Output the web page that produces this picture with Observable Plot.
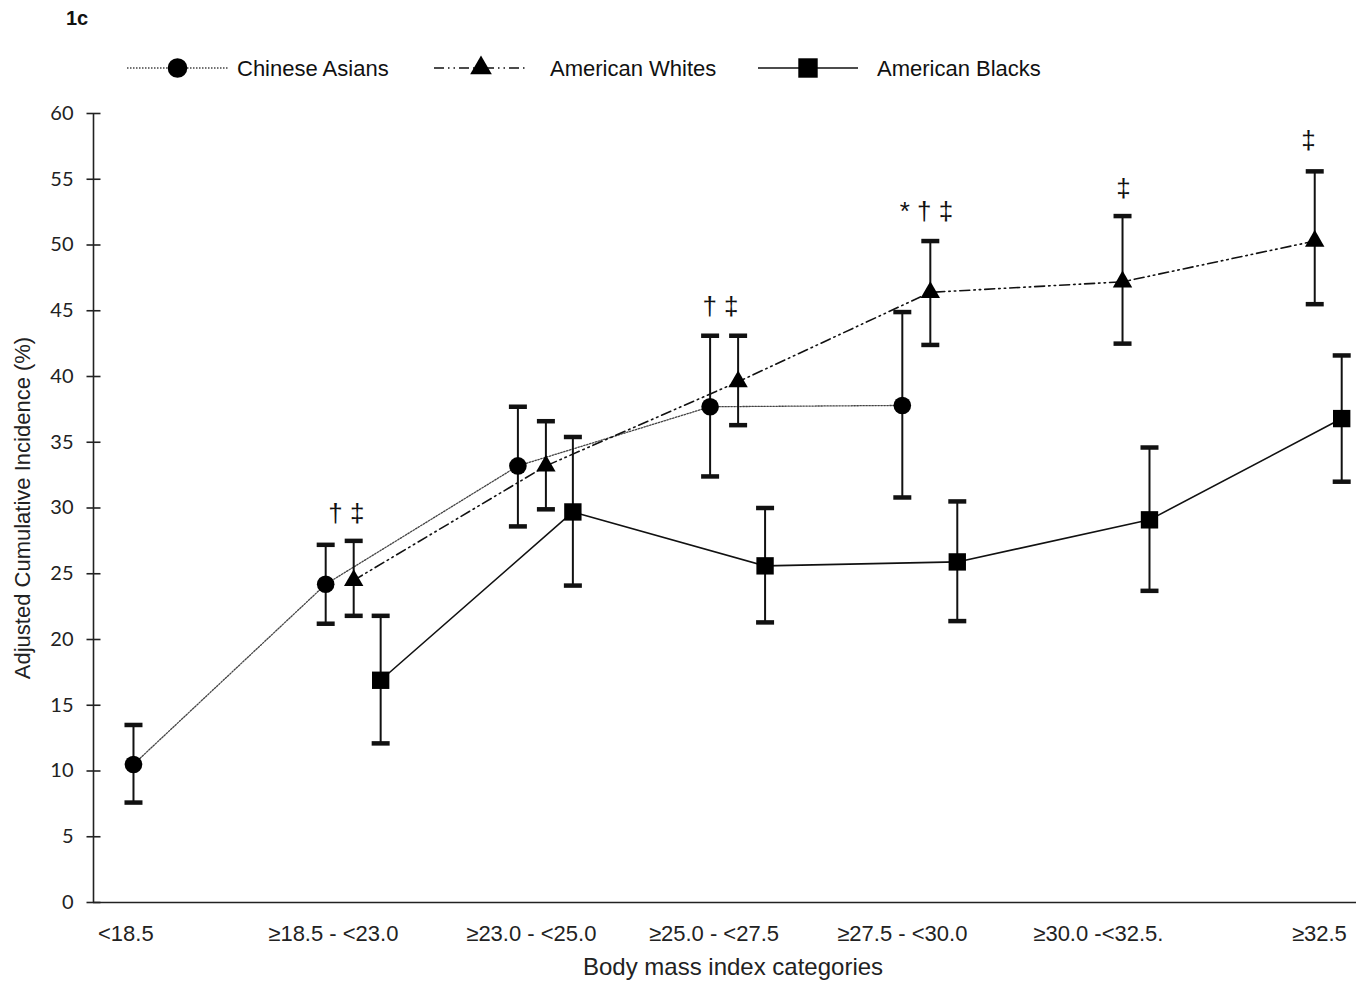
<!DOCTYPE html>
<html>
<head>
<meta charset="utf-8">
<script src="https://cdn.jsdelivr.net/npm/d3@7"></script>
<script src="https://cdn.jsdelivr.net/npm/@observablehq/plot@0.6"></script>
<style>
  body { margin: 0; background: #fff; font-family: "Liberation Sans", Arial, sans-serif; }
  #hdr { position: relative; width: 1371px; height: 95px; }
  #hdr .t { position: absolute; font-size: 22px; color: #111; line-height: 24px; }
  #hdr svg { position: absolute; overflow: visible; }
</style>
</head>
<body>
<div id="hdr">
  <div class="t" style="left:66px; top:6px; font-weight:bold; font-size:20px;">1c</div>
</div>
<div id="chart"></div>
<script>
// ---------- data ----------
const categories = ["<18.5", "≥18.5 - <23.0", "≥23.0 - <25.0", "≥25.0 - <27.5", "≥27.5 - <30.0", "≥30.0 -<32.5.", "≥32.5"];
const seriesNames = ["Chinese Asians", "American Whites", "American Blacks"];

const chineseValue = [10.5, 24.2, 33.2, 37.7, 37.8, null, null];
const chineseHigh  = [13.5, 27.2, 37.7, 43.1, 44.9, null, null];
const chineseLow   = [7.6, 21.2, 28.6, 32.4, 30.8, null, null];

const whitesValue = [null, 24.5, 33.2, 39.6, 46.4, 47.2, 50.3];
const whitesHigh  = [null, 27.5, 36.6, 43.1, 50.3, 52.2, 55.6];
const whitesLow   = [null, 21.8, 29.9, 36.3, 42.4, 42.5, 45.5];

const blacksValue = [null, 16.9, 29.7, 25.6, 25.9, 29.1, 36.8];
const blacksHigh  = [null, 21.8, 35.4, 30.0, 30.5, 34.6, 41.6];
const blacksLow   = [null, 12.1, 24.1, 21.3, 21.4, 23.7, 32.0];

const yTicks = [0, 5, 10, 15, 20, 25, 30, 35, 40, 45, 50, 55, 60];

// significance markers: category index, text, height (value units)
const annotCategory = [1, 3, 4, 5, 6];
const annotText = ["† ‡", "† ‡", "* † ‡", "‡", "‡"];
const annotValue = [29.6, 45.3, 52.5, 54.3, 57.9];

const xTitle = "Body mass index categories";
const yTitle = "Adjusted Cumulative Incidence (%)";

// ---------- layout (not data) ----------
const seriesOffset = [0, 0.1457, 0.286];            // x offset within a category
const seriesDash = ["1.5,1.5", "10,4,1.5,4,1.5,4", null];
const seriesSymbol = ["circle", "triangle", "square"];
const seriesR = [8.8, 7.2, 9.8];
const labelNudge = [-0.04, 0.04, 0.07, 0.02, 0.0, 0.02, 0.17];
const annotNudge = [0.108, 0.054, 0.126, 0.151, 0.113];
const xMin = -0.208, xMax = 6.363;

const values = [chineseValue, whitesValue, blacksValue];
const highs = [chineseHigh, whitesHigh, blacksHigh];
const lows = [chineseLow, whitesLow, blacksLow];

const rows = [];
seriesNames.forEach((s, k) => {
  values[k].forEach((v, i) => {
    if (v == null) return;
    rows.push({series: s, k, i, x: i + seriesOffset[k], y: v, hi: highs[k][i], lo: lows[k][i]});
  });
});

const hline = w => ({draw(ctx) { ctx.moveTo(-w, 0); ctx.lineTo(w, 0); }});
const FONT = "'Liberation Sans', Arial, sans-serif";

const marks = [
  // axis lines
  Plot.ruleX([xMin], {y1: 0, y2: 60, stroke: "#222", strokeWidth: 1.6}),
  Plot.ruleY([0], {stroke: "#222", strokeWidth: 1.6}),
  // y ticks crossing the axis
  Plot.dot(yTicks, {x: xMin, y: d => d, symbol: hline(7), stroke: "#222", strokeWidth: 1.6, fill: "none"}),
  Plot.axisY(yTicks, {tickSize: 0, tickPadding: 20, fontSize: 20, fontFamily: "Lato, 'Open Sans', sans-serif", fill: "#222", label: null}),
  // category labels
  Plot.text(categories, {x: (d, i) => i + labelNudge[i], y: 0, dy: 31, text: d => d, fontSize: 22, fill: "#222", lineAnchor: "middle", fontFamily: FONT}),
  // axis titles
  Plot.text([xTitle], {frameAnchor: "bottom", dx: 8, dy: 65, fontSize: 24, fill: "#222", lineAnchor: "middle", fontFamily: FONT}),
  Plot.text([yTitle], {frameAnchor: "left", dx: -71, rotate: -90, fontSize: 22, fill: "#222", textAnchor: "middle", lineAnchor: "middle", fontFamily: FONT})
];

seriesNames.forEach((s, k) => {
  const d = rows.filter(r => r.k === k);
  marks.push(Plot.line(d, {x: "x", y: "y", stroke: k === 0 ? "#444" : "#111", strokeWidth: k === 0 ? 1.3 : 1.6, strokeDasharray: seriesDash[k] || undefined}));
});
// error bars
marks.push(Plot.ruleX(rows, {x: "x", y1: "lo", y2: "hi", stroke: "#111", strokeWidth: 2}));
marks.push(Plot.dot(rows, {x: "x", y: "hi", symbol: hline(9), stroke: "#111", strokeWidth: 4.5, fill: "none"}));
marks.push(Plot.dot(rows, {x: "x", y: "lo", symbol: hline(9), stroke: "#111", strokeWidth: 4.5, fill: "none"}));
// markers
seriesNames.forEach((s, k) => {
  const d = rows.filter(r => r.k === k);
  marks.push(Plot.dot(d, {x: "x", y: "y", symbol: seriesSymbol[k], r: seriesR[k], fill: "#000", stroke: "none"}));
});
// significance annotations
marks.push(Plot.text(annotText, {x: (d, i) => annotCategory[i] + annotNudge[i], y: (d, i) => annotValue[i], text: d => d, fontSize: 26, fill: "#111", lineAnchor: "middle", fontFamily: FONT}));

const chart = Plot.plot({
  width: 1371,
  height: 893,
  marginLeft: 93,
  marginRight: 15,
  marginTop: 18,
  marginBottom: 86,
  x: {domain: [xMin, xMax], axis: null},
  y: {domain: [0, 60], axis: null},
  style: {background: "white", fontFamily: FONT, overflow: "visible"},
  marks
});
document.getElementById("chart").appendChild(chart);

// ---------- legend ----------
const hdr = document.getElementById("hdr");
const legendLine = [[127, 228, 237], [434, 528, 550], [758, 858, 877]];
seriesNames.forEach((s, k) => {
  const [x0, x1, tx] = legendLine[k];
  const w = x1 - x0;
  const svg = d3.create("svg").attr("width", w).attr("height", 30)
    .style("left", x0 + "px").style("top", "53px");
  svg.append("line").attr("x1", 0).attr("x2", w).attr("y1", 15).attr("y2", 15)
    .attr("stroke", k === 0 ? "#444" : "#111").attr("stroke-width", k === 0 ? 1.3 : 1.6)
    .attr("stroke-dasharray", seriesDash[k]);
  const sym = {circle: d3.symbolCircle, triangle: d3.symbolTriangle, square: d3.symbolSquare}[seriesSymbol[k]];
  svg.append("path").attr("transform", `translate(${w / 2},15)`)
    .attr("d", d3.symbol(sym, Math.PI * seriesR[k] * seriesR[k] * 1.25)()).attr("fill", "#000");
  hdr.appendChild(svg.node());
  const t = document.createElement("div");
  t.className = "t";
  t.style.left = tx + "px";
  t.style.top = "57px";
  t.textContent = s;
  hdr.appendChild(t);
});
</script>
</body>
</html>
